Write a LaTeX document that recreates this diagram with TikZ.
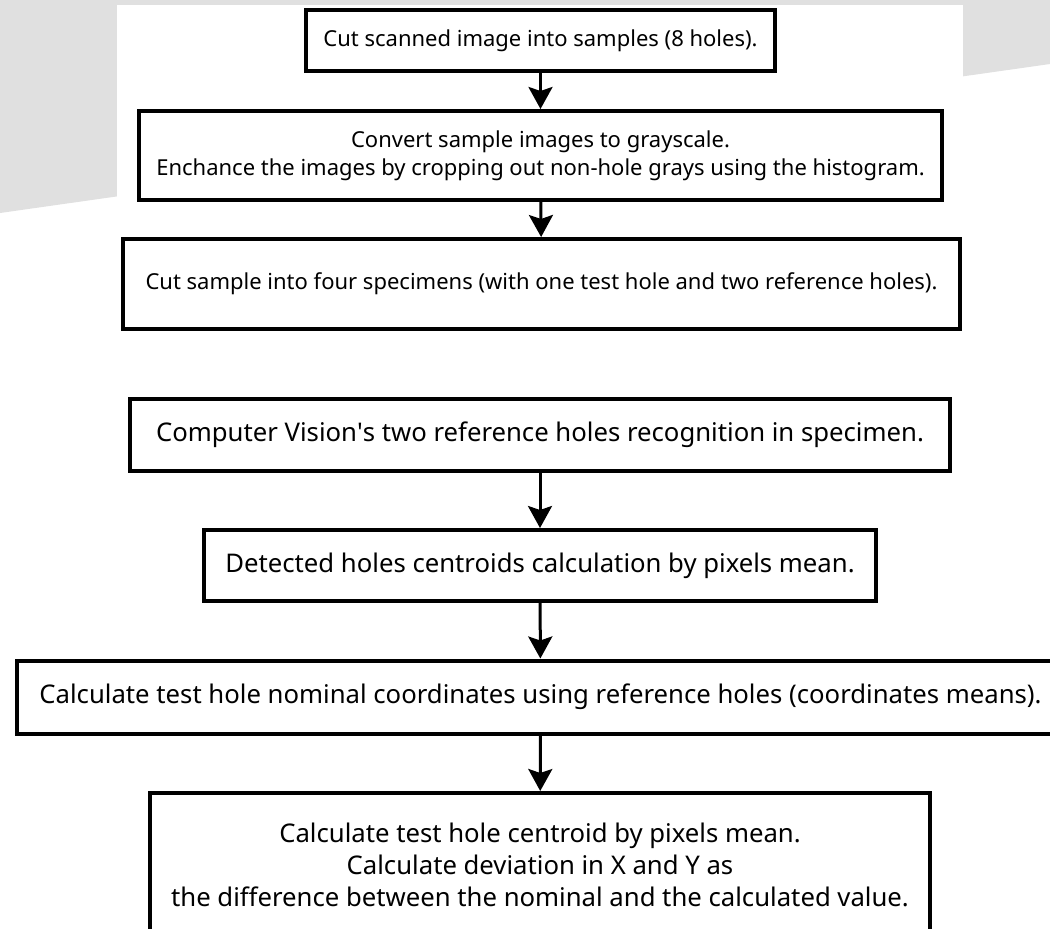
\documentclass[tikz,border=0pt]{standalone}
\usepackage{fontspec}
\setmainfont{Noto Sans}
\usepackage{tikz}
\usetikzlibrary{arrows.meta}
\tikzstyle{stepbox} = [draw, line width=4pt, fill=white, align=center, inner sep=0pt]
\tikzstyle{small} = [font=\fontsize{22}{28}\selectfont]
\tikzstyle{large} = [font=\fontsize{25.7}{32}\selectfont]
\tikzstyle{arrow} = [line width=3pt, -{Stealth[length=22pt, width=24pt, inset=4pt]}]

\begin{document}
\begin{tikzpicture}[x=1pt, y=-1pt]
\useasboundingbox (0,0) rectangle (1050,929);
\fill[white] (0,0) rectangle (1050,929);
\fill[black!12] (0,0) -- (1050,0) -- (1050,64) -- (0,213) -- cycle;
\fill[white] (117,5) rectangle (963,250);

\node[stepbox, small, minimum width=469pt, minimum height=61pt] (cut) at (540.5,40.5) {Cut scanned image into samples (8 holes).};
\node[stepbox, small, minimum width=803pt, minimum height=89pt] (gray) at (540.5,155.5) {Convert sample images to grayscale.\\Enchance the images by cropping out non-hole grays using the histogram.};
\node[stepbox, small, minimum width=837pt, minimum height=90pt] (specimens) at (541.5,284) {Cut sample into four specimens (with one test hole and two reference holes).};

\node[stepbox, large, minimum width=820pt, minimum height=72pt] (vision) at (540,435) {Computer Vision\textquotesingle s two reference holes recognition in specimen.};
\node[stepbox, large, minimum width=672pt, minimum height=71pt] (centroids) at (540,565.5) {Detected holes centroids calculation by pixels mean.};
\node[stepbox, large, minimum width=1047pt, minimum height=73pt] (nominal) at (540.5,697) {Calculate test hole nominal coordinates using reference holes (coordinates means).};
\node[stepbox, large, minimum width=780pt, minimum height=144pt] (deviation) at (540,865) {Calculate test hole centroid by pixels mean.\\Calculate deviation in X and Y as\\the difference between the nominal and the calculated value.};

\draw[arrow] (cut) -- (gray);
\draw[arrow] (gray) -- (specimens);
\draw[arrow] (vision) -- (centroids);
\draw[arrow] (centroids) -- (nominal);
\draw[arrow] (nominal) -- (deviation);
\end{tikzpicture}
\end{document}
